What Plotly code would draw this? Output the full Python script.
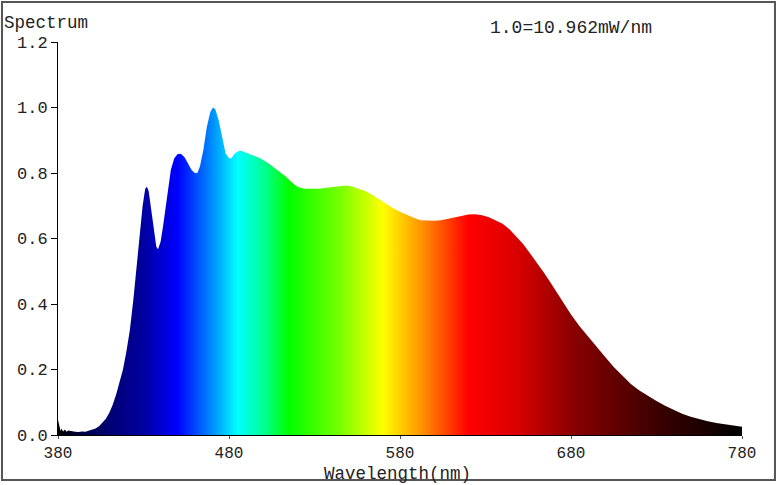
import plotly.graph_objects as go

# Relative spectral power (1.0 = 10.962 mW/nm)
wavelength_nm = [
    380, 380.5, 381, 381.5, 382, 383, 384, 385, 386, 388, 390, 392, 394, 396, 398,
    400, 402, 404, 406, 408, 410, 412, 414, 416, 418, 420, 422, 424, 426, 428,
    429.5, 431, 432, 433, 434.5, 436, 437.5, 438.5, 440, 441.5, 443, 444.5, 446,
    448, 450, 452, 454, 456, 458, 460, 461.5, 463, 465, 467, 469, 470.5, 472, 474,
    476, 478, 480, 481.5, 483, 485, 487, 490, 494, 498, 503, 508, 513, 517, 520,
    524, 529, 533, 537, 541, 545, 549, 552, 556, 560, 564, 568, 572, 576, 580,
    584, 588, 592, 596, 600, 604, 608, 612, 616, 620, 624, 628, 632, 636, 640,
    644, 648, 652, 656, 660, 664, 668, 672, 676, 680, 685, 690, 695, 700, 705,
    710, 715, 720, 725, 730, 735, 740, 745, 750, 755, 760, 765, 770, 775, 780,
]
rel_intensity = [
    0.046, 0.030, 0.022, 0.012, 0.020, 0.011, 0.017, 0.010, 0.014, 0.011, 0.010, 0.009, 0.011, 0.010, 0.013,
    0.016, 0.020, 0.027, 0.037, 0.050, 0.068, 0.092, 0.124, 0.160, 0.200, 0.255, 0.320, 0.410, 0.510, 0.620,
    0.700, 0.752, 0.758, 0.745, 0.690, 0.620, 0.575, 0.567, 0.590, 0.640, 0.700, 0.760, 0.810,
    0.845, 0.858, 0.858, 0.848, 0.830, 0.810, 0.800, 0.800, 0.820, 0.870, 0.940, 0.985, 1.000, 0.995, 0.960,
    0.910, 0.860, 0.845, 0.845, 0.857, 0.866, 0.868, 0.862, 0.856, 0.846, 0.830, 0.810, 0.790, 0.770, 0.758,
    0.752, 0.751, 0.752, 0.755, 0.758, 0.760, 0.762, 0.759, 0.752, 0.744, 0.733, 0.720, 0.705, 0.692, 0.682,
    0.672, 0.663, 0.656, 0.654, 0.654, 0.656, 0.660, 0.665, 0.669, 0.673, 0.674, 0.671, 0.665, 0.656, 0.645,
    0.628, 0.607, 0.583, 0.555, 0.527, 0.497, 0.466, 0.432, 0.399, 0.368, 0.332, 0.300, 0.270, 0.238, 0.208,
    0.181, 0.156, 0.136, 0.119, 0.104, 0.089, 0.076, 0.065, 0.056, 0.048, 0.042, 0.037, 0.033, 0.029, 0.025,
]

x_ticks = [380, 480, 580, 680, 780]
y_ticks = [0.0, 0.2, 0.4, 0.6, 0.8, 1.0, 1.2]

# rainbow fill, 380 nm (0) -> 780 nm (1)
spectrum_colors = [
    [0.000, "rgb(0,0,0)"],
    [0.050, "rgb(0,0,90)"],
    [0.125, "rgb(0,0,160)"],
    [0.175, "rgb(0,0,255)"],
    [0.225, "rgb(0,140,255)"],
    [0.2625, "rgb(0,255,255)"],
    [0.300, "rgb(0,255,150)"],
    [0.3375, "rgb(0,255,0)"],
    [0.4125, "rgb(120,255,0)"],
    [0.475, "rgb(255,255,0)"],
    [0.525, "rgb(255,160,0)"],
    [0.600, "rgb(255,0,0)"],
    [0.675, "rgb(215,0,0)"],
    [0.750, "rgb(140,0,0)"],
    [0.875, "rgb(60,0,0)"],
    [1.000, "rgb(0,0,0)"],
]

font_mono = "Courier New"

fig = go.Figure()
fig.add_trace(go.Scatter(
    x=wavelength_nm,
    y=rel_intensity,
    mode="lines",
    line=dict(width=0),
    fill="tozeroy",
    fillgradient=dict(type="horizontal", colorscale=spectrum_colors),
    hoverinfo="x+y",
))

fig.update_layout(
    width=777, height=485,
    margin=dict(l=58, r=35, t=42, b=50),
    paper_bgcolor="white", plot_bgcolor="white",
    showlegend=False,
    font=dict(family=font_mono, size=17, color="#222"),
    xaxis=dict(
        range=[380, 780], tickvals=x_ticks, showgrid=False, zeroline=False,
        showline=True, linecolor="black", linewidth=1, automargin=False,
        ticks="outside", ticklen=3, tickcolor="#555", tickfont=dict(size=16),
    ),
    yaxis=dict(
        range=[0, 1.2], tickvals=y_ticks, tickformat=".1f", showgrid=False,
        zeroline=False, showline=True, linecolor="black", linewidth=1,
        automargin=False, ticks="outside", ticklen=6, tickcolor="black",
    ),
    annotations=[
        dict(text="Spectrum", xref="paper", yref="paper", x=-0.082, y=1.048,
             xanchor="left", yanchor="middle", showarrow=False,
             font=dict(size=17.5)),
        dict(text="1.0=10.962mW/nm", xref="paper", yref="paper", x=0.628, y=1.036,
             xanchor="left", yanchor="middle", showarrow=False,
             font=dict(size=18)),
        # x axis title placed by hand to sit just under the tick labels
        dict(text="Wavelength(nm)", xref="paper", yref="paper", x=0.497, y=-0.099,
             xanchor="center", yanchor="middle", showarrow=False,
             font=dict(size=17.5)),
    ],
    shapes=[
        dict(type="rect", xref="paper", yref="paper",
             x0=-0.0819, x1=1.0482, y0=-0.1145, y1=1.1018,
             line=dict(color="#555", width=2)),
    ],
)

# page body has a default 8px margin; drop it so the figure fills the window
fig.write_html("out.html", config={"displayModeBar": False},
               post_script="document.body.style.margin = '0';")
